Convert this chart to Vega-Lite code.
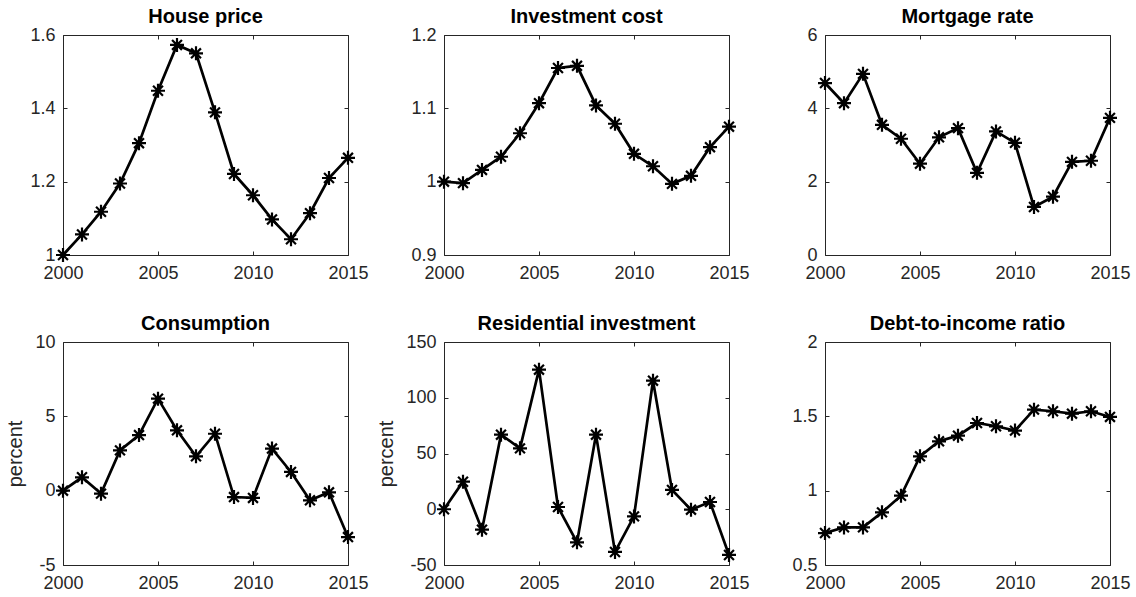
{
  "$schema": "https://vega.github.io/schema/vega-lite/v6.json",
  "background": "white",
  "padding": {"left": 5, "top": 6, "right": 2, "bottom": 2},
  "columns": 3,
  "bounds": "flush",
  "spacing": {"row": 87, "column": 96},
  "datasets": {
    "series": [
      {"panel": "House price", "year": 2000, "value": 1.0},
      {"panel": "House price", "year": 2001, "value": 1.056},
      {"panel": "House price", "year": 2002, "value": 1.118},
      {"panel": "House price", "year": 2003, "value": 1.195},
      {"panel": "House price", "year": 2004, "value": 1.305},
      {"panel": "House price", "year": 2005, "value": 1.448},
      {"panel": "House price", "year": 2006, "value": 1.573},
      {"panel": "House price", "year": 2007, "value": 1.55},
      {"panel": "House price", "year": 2008, "value": 1.389},
      {"panel": "House price", "year": 2009, "value": 1.221},
      {"panel": "House price", "year": 2010, "value": 1.163},
      {"panel": "House price", "year": 2011, "value": 1.097},
      {"panel": "House price", "year": 2012, "value": 1.043},
      {"panel": "House price", "year": 2013, "value": 1.114},
      {"panel": "House price", "year": 2014, "value": 1.21},
      {"panel": "House price", "year": 2015, "value": 1.265},
      {"panel": "Investment cost", "year": 2000, "value": 1.0},
      {"panel": "Investment cost", "year": 2001, "value": 0.998},
      {"panel": "Investment cost", "year": 2002, "value": 1.016},
      {"panel": "Investment cost", "year": 2003, "value": 1.034},
      {"panel": "Investment cost", "year": 2004, "value": 1.066},
      {"panel": "Investment cost", "year": 2005, "value": 1.107},
      {"panel": "Investment cost", "year": 2006, "value": 1.155},
      {"panel": "Investment cost", "year": 2007, "value": 1.158},
      {"panel": "Investment cost", "year": 2008, "value": 1.104},
      {"panel": "Investment cost", "year": 2009, "value": 1.079},
      {"panel": "Investment cost", "year": 2010, "value": 1.038},
      {"panel": "Investment cost", "year": 2011, "value": 1.021},
      {"panel": "Investment cost", "year": 2012, "value": 0.997},
      {"panel": "Investment cost", "year": 2013, "value": 1.008},
      {"panel": "Investment cost", "year": 2014, "value": 1.047},
      {"panel": "Investment cost", "year": 2015, "value": 1.075},
      {"panel": "Mortgage rate", "year": 2000, "value": 4.69},
      {"panel": "Mortgage rate", "year": 2001, "value": 4.14},
      {"panel": "Mortgage rate", "year": 2002, "value": 4.94},
      {"panel": "Mortgage rate", "year": 2003, "value": 3.55},
      {"panel": "Mortgage rate", "year": 2004, "value": 3.17},
      {"panel": "Mortgage rate", "year": 2005, "value": 2.49},
      {"panel": "Mortgage rate", "year": 2006, "value": 3.21},
      {"panel": "Mortgage rate", "year": 2007, "value": 3.46},
      {"panel": "Mortgage rate", "year": 2008, "value": 2.24},
      {"panel": "Mortgage rate", "year": 2009, "value": 3.37},
      {"panel": "Mortgage rate", "year": 2010, "value": 3.06},
      {"panel": "Mortgage rate", "year": 2011, "value": 1.31},
      {"panel": "Mortgage rate", "year": 2012, "value": 1.59},
      {"panel": "Mortgage rate", "year": 2013, "value": 2.54},
      {"panel": "Mortgage rate", "year": 2014, "value": 2.57},
      {"panel": "Mortgage rate", "year": 2015, "value": 3.74},
      {"panel": "Consumption", "year": 2000, "value": 0.0},
      {"panel": "Consumption", "year": 2001, "value": 0.9},
      {"panel": "Consumption", "year": 2002, "value": -0.2},
      {"panel": "Consumption", "year": 2003, "value": 2.71},
      {"panel": "Consumption", "year": 2004, "value": 3.74},
      {"panel": "Consumption", "year": 2005, "value": 6.19},
      {"panel": "Consumption", "year": 2006, "value": 4.06},
      {"panel": "Consumption", "year": 2007, "value": 2.31},
      {"panel": "Consumption", "year": 2008, "value": 3.83},
      {"panel": "Consumption", "year": 2009, "value": -0.43},
      {"panel": "Consumption", "year": 2010, "value": -0.49},
      {"panel": "Consumption", "year": 2011, "value": 2.83},
      {"panel": "Consumption", "year": 2012, "value": 1.26},
      {"panel": "Consumption", "year": 2013, "value": -0.65},
      {"panel": "Consumption", "year": 2014, "value": -0.11},
      {"panel": "Consumption", "year": 2015, "value": -3.12},
      {"panel": "Residential investment", "year": 2000, "value": 0.0},
      {"panel": "Residential investment", "year": 2001, "value": 24.7},
      {"panel": "Residential investment", "year": 2002, "value": -18.3},
      {"panel": "Residential investment", "year": 2003, "value": 66.9},
      {"panel": "Residential investment", "year": 2004, "value": 54.6},
      {"panel": "Residential investment", "year": 2005, "value": 125.2},
      {"panel": "Residential investment", "year": 2006, "value": 2.0},
      {"panel": "Residential investment", "year": 2007, "value": -29.7},
      {"panel": "Residential investment", "year": 2008, "value": 66.9},
      {"panel": "Residential investment", "year": 2009, "value": -38.3},
      {"panel": "Residential investment", "year": 2010, "value": -6.4},
      {"panel": "Residential investment", "year": 2011, "value": 115.3},
      {"panel": "Residential investment", "year": 2012, "value": 17.3},
      {"panel": "Residential investment", "year": 2013, "value": -0.4},
      {"panel": "Residential investment", "year": 2014, "value": 6.5},
      {"panel": "Residential investment", "year": 2015, "value": -41.0},
      {"panel": "Debt-to-income ratio", "year": 2000, "value": 0.715},
      {"panel": "Debt-to-income ratio", "year": 2001, "value": 0.753},
      {"panel": "Debt-to-income ratio", "year": 2002, "value": 0.753},
      {"panel": "Debt-to-income ratio", "year": 2003, "value": 0.854},
      {"panel": "Debt-to-income ratio", "year": 2004, "value": 0.966},
      {"panel": "Debt-to-income ratio", "year": 2005, "value": 1.231},
      {"panel": "Debt-to-income ratio", "year": 2006, "value": 1.332},
      {"panel": "Debt-to-income ratio", "year": 2007, "value": 1.37},
      {"panel": "Debt-to-income ratio", "year": 2008, "value": 1.455},
      {"panel": "Debt-to-income ratio", "year": 2009, "value": 1.433},
      {"panel": "Debt-to-income ratio", "year": 2010, "value": 1.404},
      {"panel": "Debt-to-income ratio", "year": 2011, "value": 1.545},
      {"panel": "Debt-to-income ratio", "year": 2012, "value": 1.534},
      {"panel": "Debt-to-income ratio", "year": 2013, "value": 1.518},
      {"panel": "Debt-to-income ratio", "year": 2014, "value": 1.534},
      {"panel": "Debt-to-income ratio", "year": 2015, "value": 1.496}
    ]
  },
  "data": {"name": "series"},
  "concat": [
    {
      "title": "House price",
      "width": 285, "height": 220,
      "transform": [{"filter": "datum.panel === 'House price'"}],
      "layer": [
        {"mark": {"type": "line", "color": "black", "strokeWidth": 2.7},
         "encoding": {
           "x": {"field": "year", "type": "quantitative", "scale": {"domain": [2000, 2015], "nice": false}, "axis": {"values": [2000, 2005, 2010, 2015], "format": "d", "title": null}},
           "y": {"field": "value", "type": "quantitative", "scale": {"domain": [1, 1.6], "nice": false, "zero": false}, "axis": {"values": [1, 1.2, 1.4, 1.6], "format": "~g", "title": null}}}},
        {"mark": {"type": "point", "shape": "M0,-1L0,1M-1,0L1,0M-0.707,-0.707L0.707,0.707M-0.707,0.707L0.707,-0.707", "filled": false, "stroke": "black", "strokeWidth": 2.2, "size": 196, "opacity": 1},
         "encoding": {
           "x": {"field": "year", "type": "quantitative", "axis": {"orient": "top", "labels": false, "values": [2000, 2005, 2010, 2015], "title": null}},
           "y": {"field": "value", "type": "quantitative", "axis": {"orient": "right", "labels": false, "values": [1, 1.2, 1.4, 1.6], "title": null}}}}
      ],
      "resolve": {"axis": {"x": "independent", "y": "independent"}}
    },
    {
      "title": "Investment cost",
      "width": 285, "height": 220,
      "transform": [{"filter": "datum.panel === 'Investment cost'"}],
      "layer": [
        {"mark": {"type": "line", "color": "black", "strokeWidth": 2.7},
         "encoding": {
           "x": {"field": "year", "type": "quantitative", "scale": {"domain": [2000, 2015], "nice": false}, "axis": {"values": [2000, 2005, 2010, 2015], "format": "d", "title": null}},
           "y": {"field": "value", "type": "quantitative", "scale": {"domain": [0.9, 1.2], "nice": false, "zero": false}, "axis": {"values": [0.9, 1, 1.1, 1.2], "format": "~g", "title": null}}}},
        {"mark": {"type": "point", "shape": "M0,-1L0,1M-1,0L1,0M-0.707,-0.707L0.707,0.707M-0.707,0.707L0.707,-0.707", "filled": false, "stroke": "black", "strokeWidth": 2.2, "size": 196, "opacity": 1},
         "encoding": {
           "x": {"field": "year", "type": "quantitative", "axis": {"orient": "top", "labels": false, "values": [2000, 2005, 2010, 2015], "title": null}},
           "y": {"field": "value", "type": "quantitative", "axis": {"orient": "right", "labels": false, "values": [0.9, 1, 1.1, 1.2], "title": null}}}}
      ],
      "resolve": {"axis": {"x": "independent", "y": "independent"}}
    },
    {
      "title": "Mortgage rate",
      "width": 285, "height": 220,
      "transform": [{"filter": "datum.panel === 'Mortgage rate'"}],
      "layer": [
        {"mark": {"type": "line", "color": "black", "strokeWidth": 2.7},
         "encoding": {
           "x": {"field": "year", "type": "quantitative", "scale": {"domain": [2000, 2015], "nice": false}, "axis": {"values": [2000, 2005, 2010, 2015], "format": "d", "title": null}},
           "y": {"field": "value", "type": "quantitative", "scale": {"domain": [0, 6], "nice": false}, "axis": {"values": [0, 2, 4, 6], "format": "d", "title": null}}}},
        {"mark": {"type": "point", "shape": "M0,-1L0,1M-1,0L1,0M-0.707,-0.707L0.707,0.707M-0.707,0.707L0.707,-0.707", "filled": false, "stroke": "black", "strokeWidth": 2.2, "size": 196, "opacity": 1},
         "encoding": {
           "x": {"field": "year", "type": "quantitative", "axis": {"orient": "top", "labels": false, "values": [2000, 2005, 2010, 2015], "title": null}},
           "y": {"field": "value", "type": "quantitative", "axis": {"orient": "right", "labels": false, "values": [0, 2, 4, 6], "title": null}}}}
      ],
      "resolve": {"axis": {"x": "independent", "y": "independent"}}
    },
    {
      "title": "Consumption",
      "width": 285, "height": 223,
      "transform": [{"filter": "datum.panel === 'Consumption'"}],
      "layer": [
        {"mark": {"type": "line", "color": "black", "strokeWidth": 2.7},
         "encoding": {
           "x": {"field": "year", "type": "quantitative", "scale": {"domain": [2000, 2015], "nice": false}, "axis": {"values": [2000, 2005, 2010, 2015], "format": "d", "title": null}},
           "y": {"field": "value", "type": "quantitative", "scale": {"domain": [-5, 10], "nice": false}, "axis": {"values": [-5, 0, 5, 10], "format": "d", "labelExpr": "replace(datum.label, '\u2212', '-')", "title": "percent"}}}},
        {"mark": {"type": "point", "shape": "M0,-1L0,1M-1,0L1,0M-0.707,-0.707L0.707,0.707M-0.707,0.707L0.707,-0.707", "filled": false, "stroke": "black", "strokeWidth": 2.2, "size": 196, "opacity": 1},
         "encoding": {
           "x": {"field": "year", "type": "quantitative", "axis": {"orient": "top", "labels": false, "values": [2000, 2005, 2010, 2015], "title": null}},
           "y": {"field": "value", "type": "quantitative", "axis": {"orient": "right", "labels": false, "values": [-5, 0, 5, 10], "title": null}}}}
      ],
      "resolve": {"axis": {"x": "independent", "y": "independent"}}
    },
    {
      "title": "Residential investment",
      "width": 285, "height": 223,
      "transform": [{"filter": "datum.panel === 'Residential investment'"}],
      "layer": [
        {"mark": {"type": "line", "color": "black", "strokeWidth": 2.7},
         "encoding": {
           "x": {"field": "year", "type": "quantitative", "scale": {"domain": [2000, 2015], "nice": false}, "axis": {"values": [2000, 2005, 2010, 2015], "format": "d", "title": null}},
           "y": {"field": "value", "type": "quantitative", "scale": {"domain": [-50, 150], "nice": false}, "axis": {"values": [-50, 0, 50, 100, 150], "format": "d", "labelExpr": "replace(datum.label, '\u2212', '-')", "title": "percent"}}}},
        {"mark": {"type": "point", "shape": "M0,-1L0,1M-1,0L1,0M-0.707,-0.707L0.707,0.707M-0.707,0.707L0.707,-0.707", "filled": false, "stroke": "black", "strokeWidth": 2.2, "size": 196, "opacity": 1},
         "encoding": {
           "x": {"field": "year", "type": "quantitative", "axis": {"orient": "top", "labels": false, "values": [2000, 2005, 2010, 2015], "title": null}},
           "y": {"field": "value", "type": "quantitative", "axis": {"orient": "right", "labels": false, "values": [-50, 0, 50, 100, 150], "title": null}}}}
      ],
      "resolve": {"axis": {"x": "independent", "y": "independent"}}
    },
    {
      "title": "Debt-to-income ratio",
      "width": 285, "height": 223,
      "transform": [{"filter": "datum.panel === 'Debt-to-income ratio'"}],
      "layer": [
        {"mark": {"type": "line", "color": "black", "strokeWidth": 2.7},
         "encoding": {
           "x": {"field": "year", "type": "quantitative", "scale": {"domain": [2000, 2015], "nice": false}, "axis": {"values": [2000, 2005, 2010, 2015], "format": "d", "title": null}},
           "y": {"field": "value", "type": "quantitative", "scale": {"domain": [0.5, 2], "nice": false, "zero": false}, "axis": {"values": [0.5, 1, 1.5, 2], "format": "~g", "title": null}}}},
        {"mark": {"type": "point", "shape": "M0,-1L0,1M-1,0L1,0M-0.707,-0.707L0.707,0.707M-0.707,0.707L0.707,-0.707", "filled": false, "stroke": "black", "strokeWidth": 2.2, "size": 196, "opacity": 1},
         "encoding": {
           "x": {"field": "year", "type": "quantitative", "axis": {"orient": "top", "labels": false, "values": [2000, 2005, 2010, 2015], "title": null}},
           "y": {"field": "value", "type": "quantitative", "axis": {"orient": "right", "labels": false, "values": [0.5, 1, 1.5, 2], "title": null}}}}
      ],
      "resolve": {"axis": {"x": "independent", "y": "independent"}}
    }
  ],
  "config": {
    "view": {"stroke": "#262626", "strokeWidth": 1},
    "axis": {
      "grid": false, "domain": false,
      "tickColor": "#262626", "tickSize": -4, "tickWidth": 1,
      "labelColor": "#262626", "labelFont": "Liberation Sans", "labelFontSize": 18,
      "labelFlush": false, "labelOverlap": false,
      "titleFont": "Liberation Sans", "titleFontSize": 20, "titleFontWeight": "normal", "titleColor": "#262626", "titlePadding": 9
    },
    "axisX": {"labelPadding": 13},
    "axisY": {"labelPadding": 12},
    "title": {"font": "Liberation Sans", "fontSize": 20, "fontWeight": "bold", "color": "#000000", "offset": -1, "anchor": "middle"}
  }
}
